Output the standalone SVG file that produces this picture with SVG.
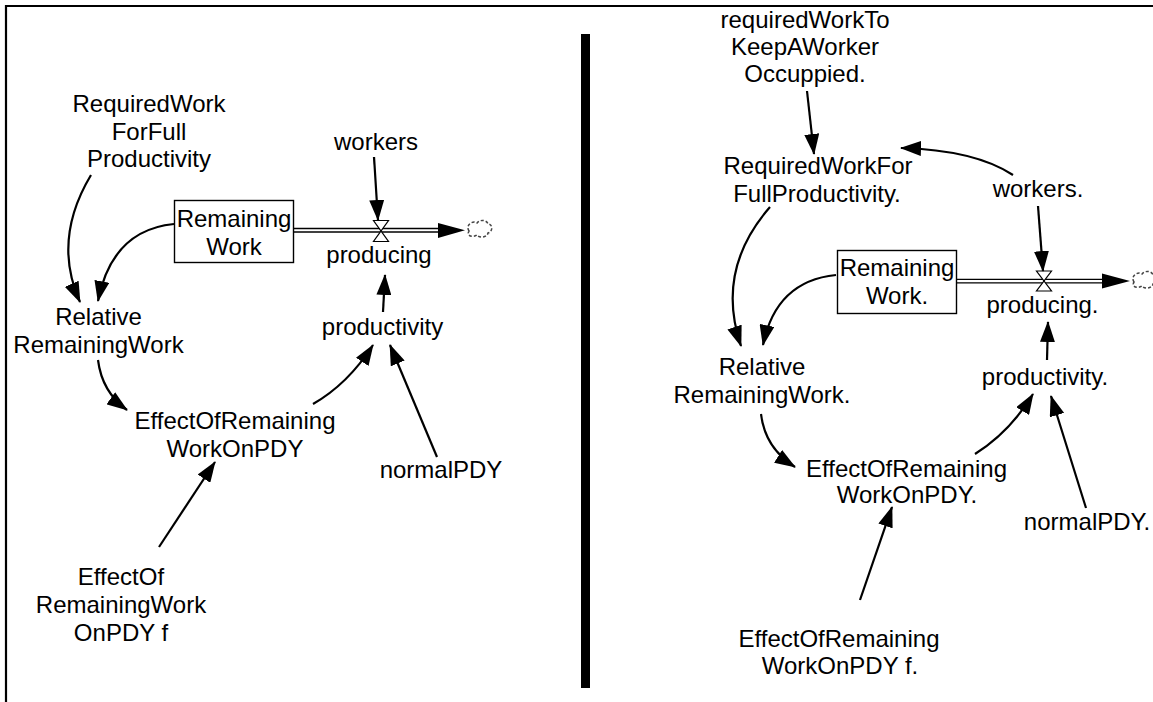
<svg xmlns="http://www.w3.org/2000/svg" width="1153" height="702" viewBox="0 0 1153 702">
<style>
text{font-family:"Liberation Sans",Arial,sans-serif;font-size:24px;fill:#000;text-anchor:middle}
.lk{fill:none;stroke:#000;stroke-width:2.2;marker-end:url(#ah)}
.stock{fill:#fff;stroke:#000;stroke-width:1.4}
.pipe{fill:none;stroke:#000;stroke-width:1.3}
.valve{fill:#fff;stroke:#000;stroke-width:1.2}
.cloud{fill:none;stroke:#444;stroke-width:1.5;stroke-dasharray:3 2}
</style>
<defs>
<marker id="ah" markerUnits="userSpaceOnUse" markerWidth="21" markerHeight="15" refX="20" refY="7.5" orient="auto">
<path d="M0,0 L21,7.5 L0,15 z" fill="#000"/>
</marker>
<path id="cld" d="M2 10 C-2 4, 6 -1, 10 2 C13 -2, 20 -1, 21 3 C26 3, 26 11, 21 12 C20 17, 12 17, 10 14 C6 17, -1 15, 2 10 Z"/>
</defs>
<rect width="1153" height="702" fill="#fff"/>
<g id="frame">
<path d="M6 702 V6 H1153" fill="none" stroke="#000" stroke-width="2.2"/>
<rect x="581" y="34" width="9" height="654" fill="#000"/>
</g>

<!-- LEFT DIAGRAM -->
<g id="L-flow">
<line class="pipe" x1="294" y1="228.5" x2="440" y2="228.5"/>
<line class="pipe" x1="294" y1="232" x2="440" y2="232"/>
<polygon points="438,223 465,230.3 438,238" fill="#000"/>
<use href="#cld" class="cloud" x="467" y="221"/>
<path class="valve" d="M373.5 220.5 L388.5 220.5 L373.5 241.5 L388.5 241.5 Z"/>
</g>
<g id="L-connectors">
<path class="lk" d="M374 157 L378 220"/>
<path class="lk" d="M91 175 Q52 240 80 302"/>
<path class="lk" d="M174 224 Q112 230 98 301"/>
<path class="lk" d="M98 360 Q102 392 127 410"/>
<path class="lk" d="M313 404 Q348 384 373 345"/>
<path class="lk" d="M437 457 L390 345"/>
<path class="lk" d="M383 312 L385 275"/>
<path class="lk" d="M159 547 L215 462"/>
</g>
<g id="L-RemainingWork">
<rect class="stock" x="174.5" y="200.5" width="119" height="62"/>
<text x="234" y="227">Remaining</text>
<text x="234" y="255">Work</text>
</g>
<g id="L-producing"><text x="379" y="263">producing</text></g>
<g id="L-workers"><text x="376" y="150">workers</text></g>
<g id="L-RequiredWorkForFullProductivity">
<text x="149" y="111.5">RequiredWork</text>
<text x="149" y="139.5">ForFull</text>
<text x="149" y="167">Productivity</text>
</g>
<g id="L-RelativeRemainingWork">
<text x="98.5" y="325">Relative</text>
<text x="98.5" y="352.5">RemainingWork</text>
</g>
<g id="L-productivity"><text x="382.5" y="335">productivity</text></g>
<g id="L-EffectOfRemainingWorkOnPDY">
<text x="235" y="428.5">EffectOfRemaining</text>
<text x="235" y="456.5">WorkOnPDY</text>
</g>
<g id="L-normalPDY"><text x="441" y="478">normalPDY</text></g>
<g id="L-EffectOfRemainingWorkOnPDYf">
<text x="121" y="585">EffectOf</text>
<text x="121" y="613">RemainingWork</text>
<text x="121" y="641">OnPDY f</text>
</g>

<!-- RIGHT DIAGRAM -->
<g id="R-flow">
<line class="pipe" x1="957" y1="279.3" x2="1104" y2="279.3"/>
<line class="pipe" x1="957" y1="282.8" x2="1104" y2="282.8"/>
<polygon points="1102,273.5 1130,281 1102,288.5" fill="#000"/>
<use href="#cld" class="cloud" x="1132" y="272"/>
<path class="valve" d="M1036.5 271 L1051.5 271 L1036.5 291 L1051.5 291 Z"/>
</g>
<g id="R-connectors">
<path class="lk" d="M807 91 L814 154"/>
<path class="lk" d="M1013 175 Q975 150 901 148"/>
<path class="lk" d="M1038 206 L1043 271"/>
<path class="lk" d="M770 207 Q715 270 741 346"/>
<path class="lk" d="M836 275 Q776 281 763 345"/>
<path class="lk" d="M761 414 Q765 448 795 467"/>
<path class="lk" d="M975 454 Q1010 432 1033 394"/>
<path class="lk" d="M1086 508 L1051 396"/>
<path class="lk" d="M1047 360 L1048 322"/>
<path class="lk" d="M860 600 L892 507"/>
</g>
<g id="R-requiredWorkToKeepAWorkerOccuppied">
<text x="805" y="27.5">requiredWorkTo</text>
<text x="805" y="55">KeepAWorker</text>
<text x="805" y="82">Occuppied.</text>
</g>
<g id="R-RequiredWorkForFullProductivity">
<text x="818" y="174">RequiredWorkFor</text>
<text x="817" y="201.5">FullProductivity.</text>
</g>
<g id="R-workers"><text x="1038" y="197">workers.</text></g>
<g id="R-RemainingWork">
<rect class="stock" x="837.5" y="250.5" width="119" height="63"/>
<text x="897" y="276">Remaining</text>
<text x="897" y="304">Work.</text>
</g>
<g id="R-producing"><text x="1042.5" y="313">producing.</text></g>
<g id="R-RelativeRemainingWork">
<text x="762" y="375">Relative</text>
<text x="762" y="403">RemainingWork.</text>
</g>
<g id="R-productivity"><text x="1045" y="385">productivity.</text></g>
<g id="R-EffectOfRemainingWorkOnPDY">
<text x="906.5" y="477">EffectOfRemaining</text>
<text x="907" y="503">WorkOnPDY.</text>
</g>
<g id="R-normalPDY"><text x="1087" y="530">normalPDY.</text></g>
<g id="R-EffectOfRemainingWorkOnPDYf">
<text x="839" y="647">EffectOfRemaining</text>
<text x="840" y="674">WorkOnPDY f.</text>
</g>
</svg>
